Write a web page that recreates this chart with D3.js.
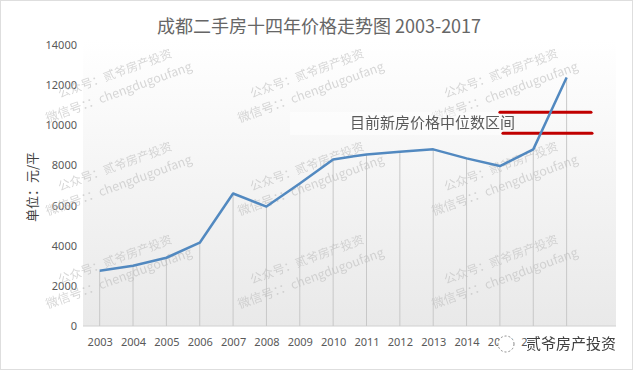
<!DOCTYPE html>
<html>
<head>
<meta charset="utf-8">
<script src="https://cdn.jsdelivr.net/npm/d3@7"></script>
<style>
  body { margin: 0; background: #fff; }
  svg { display: block; }
</style>
</head>
<body>
<svg id="chart" width="637" height="371"></svg>
<script>
// data
const years = ['2003', '2004', '2005', '2006', '2007', '2008', '2009', '2010', '2011', '2012', '2013', '2014', '2015', '2016', '2017'];
const prices = [2750, 3000, 3400, 4150, 6600, 5950, 7100, 8300, 8550, 8680, 8800, 8350, 7970, 8800, 12380];
const yTicks = [0, 2000, 4000, 6000, 8000, 10000, 12000, 14000];
const bandValues = [10650, 9600]; // red lines: new-home median range
const bandFrom = '2015';

const titleText = '成都二手房十四年价格走势图 2003-2017';
const yLabel = '单位：元/平';
const noteText = '目前新房价格中位数区间';
const wmLine1 = '公众号：贰爷房产投资';
const wmLine2 = '微信号：：chengdugoufang';
const logoText = '贰爷房产投资';

const svgW = 637;
const svgH = 371;
const margin = { top: 45, right: 21, bottom: 45, left: 83 };
const plotRight = 616;

const svg = d3.select('#chart');
const cjk = '"Noto Sans CJK SC", "Noto Sans", sans-serif';
const num = '"Noto Sans", "Liberation Sans", sans-serif';

const x = d3.scalePoint().domain(years).range([margin.left, 583.3]).padding(0.5);
const y = d3.scaleLinear().domain([0, 14000]).range([svgH - margin.bottom, margin.top]);

// outer frame
svg.append('rect')
  .attr('x', 0.5).attr('y', 0.5)
  .attr('width', 632).attr('height', 369)
  .style('fill', '#fff')
  .style('stroke', '#dedede');

// plot background gradient
const grad = svg.append('defs').append('linearGradient')
  .attr('id', 'bg').attr('x1', 0).attr('y1', 0).attr('x2', 0).attr('y2', 1);
grad.append('stop').attr('offset', '0%').attr('stop-color', '#ffffff');
grad.append('stop').attr('offset', '100%').attr('stop-color', '#e9e9e9');

svg.append('rect')
  .attr('x', margin.left).attr('y', 40)
  .attr('width', plotRight - margin.left).attr('height', y(0) - 40)
  .style('fill', 'url(#bg)');

// title
svg.append('text')
  .attr('x', 319).attr('y', 33)
  .style('text-anchor', 'middle')
  .style('font-family', cjk)
  .style('font-size', '18px')
  .style('fill', '#666')
  .text(titleText);

// y axis
const yAxis = svg.append('g')
  .attr('transform', 'translate(' + 77 + ',0)')
  .call(d3.axisLeft(y).tickValues(yTicks).tickSize(0).tickPadding(0).tickFormat(d3.format('d')));
yAxis.select('.domain').remove();
yAxis.selectAll('text')
  .style('font-family', num)
  .style('font-size', '11px')
  .style('fill', '#595959');

svg.append('text')
  .attr('transform', 'translate(37,' + 187 + ') rotate(-90)')
  .style('text-anchor', 'middle')
  .style('font-family', cjk)
  .style('font-size', '13px')
  .style('fill', '#404040')
  .text(yLabel);

// x axis
const xAxis = svg.append('g')
  .attr('transform', 'translate(0,' + y(0) + ')')
  .call(d3.axisBottom(x).tickSize(0).tickPadding(12));
xAxis.select('.domain').remove();
xAxis.selectAll('text')
  .style('font-family', num)
  .style('font-size', '11px')
  .style('fill', '#595959');

svg.append('line')
  .attr('x1', margin.left).attr('x2', plotRight)
  .attr('y1', y(0)).attr('y2', y(0))
  .style('stroke', '#d0d0d0');

// drop lines
svg.append('g')
  .selectAll('line')
  .data(years)
  .enter().append('line')
  .attr('x1', d => x(d)).attr('x2', d => x(d))
  .attr('y1', (d, i) => y(prices[i]))
  .attr('y2', y(0))
  .style('stroke', '#c8c8c8')
  .style('stroke-width', 1);

// watermarks (under the marks, faint)
const wmCols = [60, 252, 446];
const wmRows = [98, 191, 284];
const wm = svg.append('g').style('opacity', 0.6);
wmRows.forEach(r => {
  wmCols.forEach(c => {
    const g = wm.append('g').attr('transform', 'translate(' + c + ',' + r + ') rotate(-20)');
    g.append('text')
      .style('font-family', cjk)
      .style('font-size', '12px')
      .style('fill', '#bdbdbd')
      .text(wmLine1);
    g.append('text')
      .attr('x', -20).attr('y', 19)
      .style('font-family', cjk)
      .style('font-size', '12.5px')
      .style('fill', '#bdbdbd')
      .text(wmLine2);
  });
});

// annotation box + text
svg.append('rect')
  .attr('x', 290).attr('y', 112)
  .attr('width', 212).attr('height', 23)
  .style('fill', '#fff')
  .style('opacity', 0.5);

svg.append('text')
  .attr('x', 350).attr('y', 128)
  .style('font-family', cjk)
  .style('font-size', '15px')
  .style('fill', '#595959')
  .text(noteText);

// red range lines
svg.append('g')
  .selectAll('line')
  .data(bandValues)
  .enter().append('line')
  .attr('x1', (d, i) => x(bandFrom) + i * 3)
  .attr('x2', (d, i) => plotRight - 25 + i)
  .attr('y1', d => y(d)).attr('y2', d => y(d))
  .style('stroke', '#c00000')
  .style('stroke-width', 3)
  .style('stroke-linecap', 'round');

// price line
const line = d3.line()
  .x(d => x(d.year))
  .y(d => y(d.value));

svg.append('path')
  .datum(years.map((d, i) => ({ year: d, value: prices[i] })))
  .attr('d', line)
  .style('fill', 'none')
  .style('stroke', '#5289c0')
  .style('stroke-width', 2.5)
  .style('stroke-linejoin', 'round');

// logo in bottom right (covers the last tick labels, as in the source image)
svg.append('rect')
  .attr('x', 527).attr('y', 333)
  .attr('width', 92).attr('height', 20)
  .style('fill', '#fff');

svg.append('circle')
  .attr('cx', 506).attr('cy', 344).attr('r', 8)
  .style('fill', '#fff')
  .style('stroke', '#888')
  .style('stroke-dasharray', '2,2');

svg.append('text')
  .attr('x', 526).attr('y', 349)
  .style('font-family', cjk)
  .style('font-size', '15px')
  .style('fill', '#404040')
  .text(logoText);
</script>
</body>
</html>
